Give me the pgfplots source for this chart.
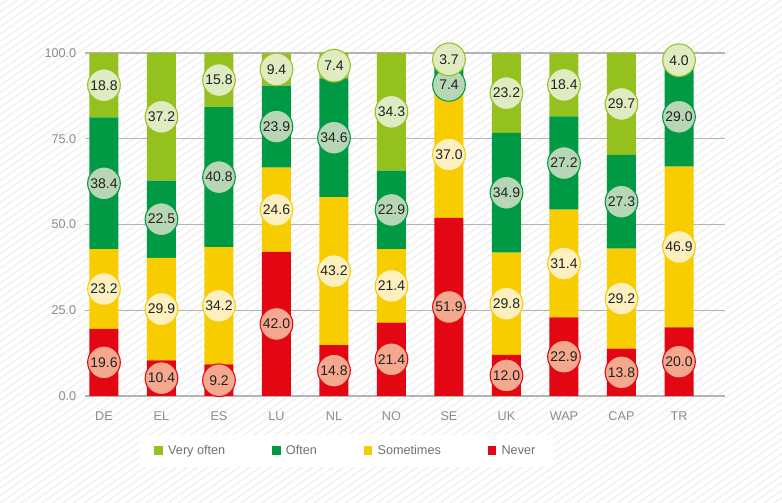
\documentclass[border=0pt]{standalone}
\usepackage{pgfplots}
\pgfplotsset{compat=1.18}
\usepackage{pgfplotstable}
\usepackage{fontspec}
\setmainfont{Liberation Sans}
\usetikzlibrary{patterns.meta}
\definecolor{cVO}{HTML}{95C11F}
\definecolor{cO}{HTML}{009A44}
\definecolor{cS}{HTML}{F7CD00}
\definecolor{cN}{HTML}{E30613}
\definecolor{lVO}{HTML}{DFEBC0}
\definecolor{lO}{HTML}{B7D6B5}
\definecolor{lS}{HTML}{FDF0BE}
\definecolor{lN}{HTML}{F4A88E}
\definecolor{tickc}{HTML}{8C8C8C}
\definecolor{legc}{HTML}{707070}
\definecolor{gridc}{HTML}{B4B4B4}
\definecolor{hatchc}{HTML}{EEEEEE}
\definecolor{txtc}{HTML}{222222}

\pgfplotstableread{
x never sometimes often veryoften nm sm om vm
0 19.6 23.2 38.4 18.8 9.8 31.2 62.0 90.6
1 10.4 29.9 22.5 37.2 5.2 25.35 51.55 81.4
2 9.2 34.2 40.8 15.8 4.6 26.3 63.8 92.1
3 42.0 24.6 23.9 9.4 21.0 54.3 78.55 95.2
4 14.8 43.2 34.6 7.4 7.4 36.4 75.3 96.3
5 21.4 21.4 22.9 34.3 10.7 32.1 54.25 82.85
6 51.9 37.0 7.4 3.7 25.95 70.4 90.7 98.15
7 12.0 29.8 34.9 23.2 6.0 26.9 59.25 88.3
8 22.9 31.4 27.2 18.4 11.45 38.6 67.9 90.7
9 13.8 29.2 27.3 29.7 6.9 28.4 56.65 85.15
10 20.0 46.9 29.0 4.0 10.0 43.45 81.4 97.9
}\datatable

\pgfplotsset{
  common/.style={
    width=480pt, height=257.25pt, scale only axis,
    at={(0,0)}, anchor=south west,
    xmin=-0.33, xmax=10.8, ymin=0, ymax=100,
  }
}
\begin{document}
\begin{tikzpicture}
\fill[white] (-63.75pt,-80.25pt) rectangle (522.75pt,297pt);
\fill[pattern={Lines[angle=35,distance=4.5pt,line width=0.9pt]}, pattern color=hatchc] (-63.75pt,-80.25pt) rectangle (522.75pt,297pt);
\begin{axis}[common, ybar stacked, bar width=21.75pt,
  axis line style={draw=none}, major tick style={draw=none},
  ytick={0,25,50,75,100}, ymajorgrids, grid style={gridc, line width=0.8pt},
  xtick={0,...,10}, xticklabels={DE,EL,ES,LU,NL,NO,SE,UK,WAP,CAP,TR},
  ticklabel style={font=\fontsize{9.5pt}{11pt}\selectfont, text=tickc},
  /pgf/number format/assume math mode=true,
  y tick label style={/pgf/number format/fixed, /pgf/number format/fixed zerofill, /pgf/number format/precision=1, xshift=-3pt},
  x tick label style={yshift=-8pt},
  legend style={at={(0.408,-0.160)}, anchor=center, legend columns=4, draw=none, fill=white,
    inner xsep=11pt, inner ysep=6pt, font=\fontsize{9.5pt}{11pt}\selectfont, text=legc,
    /tikz/every odd column/.append style={column sep=2pt},
    /tikz/every even column/.append style={column sep=33pt}},
  legend cell align=left,
  legend image code/.code={\fill[#1] (0pt,-3pt) rectangle (6.5pt,3.5pt);},
  reverse legend,
]
\addplot[fill=cN, draw=none] table[x=x,y=never]{\datatable};
\addplot[fill=cS, draw=none] table[x=x,y=sometimes]{\datatable};
\addplot[fill=cO, draw=none] table[x=x,y=often]{\datatable};
\addplot[fill=cVO, draw=none] table[x=x,y=veryoften]{\datatable};
\legend{Never, Sometimes, Often, Very often}
\end{axis}
\begin{axis}[common, hide axis, clip=false,
  nodes near coords={\pgfmathprintnumber[fixed,fixed zerofill,precision=1,assume math mode=true]{\pgfplotspointmeta}},
  every node near coord/.append style={anchor=center, circle, inner sep=0pt, minimum size=24.5pt, line width=0.8pt, font=\fontsize{10.5pt}{12pt}\selectfont, text=txtc},
]
\addplot[draw=none, mark=none, point meta=explicit, every node near coord/.append style={draw=cN, fill=lN}] table[x=x,y=nm,meta=never]{\datatable};
\addplot[draw=none, mark=none, point meta=explicit, every node near coord/.append style={draw=cS, fill=lS}] table[x=x,y=sm,meta=sometimes]{\datatable};
\addplot[draw=none, mark=none, point meta=explicit, every node near coord/.append style={draw=cO, fill=lO}] table[x=x,y=om,meta=often]{\datatable};
\addplot[draw=none, mark=none, point meta=explicit, every node near coord/.append style={draw=cVO, fill=lVO}] table[x=x,y=vm,meta=veryoften]{\datatable};
\end{axis}
\end{tikzpicture}
\end{document}
